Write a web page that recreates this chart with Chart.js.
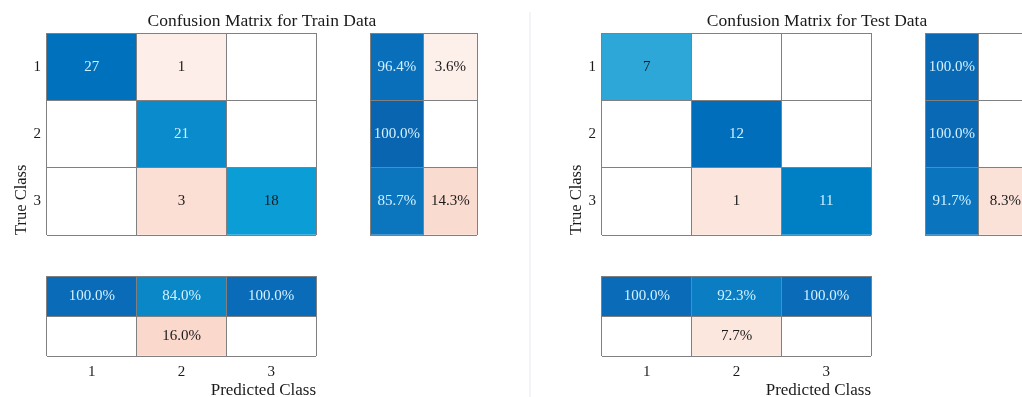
<!DOCTYPE html>
<html>
<head>
<meta charset="utf-8">
<script src="https://cdn.jsdelivr.net/npm/chart.js@4.4.1/dist/chart.umd.min.js"></script>
<style>
  html, body { margin: 0; padding: 0; background: #ffffff; overflow: hidden; width: 1022px; height: 397px; }
  .divider { position: absolute; left: 529px; top: 12px; width: 2px; height: 385px; background: #F3F3F9; }
</style>
</head>
<body>
<div class="divider"></div>
<script>
// ---------- data ----------
const classLabels = ['1', '2', '3'];
const summaryKeys = ['correct', 'incorrect'];
const rowAxisTitle = 'True Class';
const colAxisTitle = 'Predicted Class';

const trainTitle = 'Confusion Matrix for Train Data';
const trainCounts = [[27, 1, 0], [0, 21, 0], [0, 3, 18]];
const trainRowPct = [[96.4, 3.6], [100.0, 0], [85.7, 14.3]];
const trainColPct = [[100.0, 84.0, 100.0], [0, 16.0, 0]];

const testTitle = 'Confusion Matrix for Test Data';
const testCounts = [[7, 0, 0], [0, 12, 0], [0, 1, 11]];
const testRowPct = [[100.0, 0], [100.0, 0], [91.7, 8.3]];
const testColPct = [[100.0, 92.3, 100.0], [0, 7.7, 0]];

// ---------- styles ----------
const fontFamily = '"Liberation Serif", "Times New Roman", serif';
const ink = '#1a1a1a';
const lightInk = '#D2F1FF';
const gridColor = '#808080';
const W = '#FFFFFF';

const trainColors = {
  counts: [['#0071BC', '#FDEEE9', W], [W, '#0A8BCB', W], [W, '#FBDED4', '#0B9DD6']],
  rowPct: [['#0A6FBA', '#FDEFEA'], ['#0A65B0', W], ['#0B75BE', '#FADBD0']],
  colPct: [['#0A6CB8', '#0A87C7', '#0A6CB8'], [W, '#FAD8CC', W]]
};
const testColors = {
  counts: [['#2DA7D8', W, W], [W, '#006EBB', W], [W, '#FCE5DD', '#0080C4']],
  rowPct: [['#0A69B5', W], ['#0A69B5', W], ['#0A74BE', '#FBE2D9']],
  colPct: [['#0A6CB8', '#0A7DC3', '#0A6CB8'], [W, '#FCE7DF', W]]
};

const panels = [
  { left: 0,   title: trainTitle, counts: trainCounts, rowPct: trainRowPct, colPct: trainColPct, colors: trainColors },
  { left: 555, title: testTitle,  counts: testCounts,  rowPct: testRowPct,  colPct: testColPct,  colors: testColors }
];

// ---------- helpers ----------
function makeCanvas(left, top, w, h) {
  const c = document.createElement('canvas');
  c.width = w; c.height = h;
  c.style.cssText = `position:absolute;left:${left}px;top:${top}px;width:${w}px;height:${h}px;`;
  document.body.appendChild(c);
  return c;
}

function luminance(hex) {
  const n = parseInt(hex.slice(1), 16);
  const ch = [(n >> 16) & 255, (n >> 8) & 255, n & 255].map(v => {
    v /= 255;
    return v <= 0.03928 ? v / 12.92 : Math.pow((v + 0.055) / 1.055, 2.4);
  });
  return 0.2126 * ch[0] + 0.7152 * ch[1] + 0.0722 * ch[2];
}

// one dataset per matrix row; row r (counted from the top) spans band [n-1-r, n-r]
function cellDatasets(matrix, colors, keys) {
  const n = matrix.length;
  return matrix.map((row, r) => ({
    data: row.map((v, c) => ({ x: keys[c], y: [n - 1 - r, n - r], v })),
    backgroundColor: colors[r],
    borderWidth: 0,
    barPercentage: 1,
    categoryPercentage: 1,
    grouped: false
  }));
}

// writes each cell's value in the middle of its bar
const cellLabels = {
  id: 'cellLabels',
  afterDatasetsDraw(chart, args, opts) {
    const ctx = chart.ctx;
    ctx.save();
    ctx.font = `15px ${fontFamily}`;
    ctx.textAlign = 'center';
    ctx.textBaseline = 'middle';
    chart.data.datasets.forEach((ds, di) => {
      chart.getDatasetMeta(di).data.forEach((bar, i) => {
        const v = ds.data[i].v;
        if (!v) return;
        const { x, y, base } = bar.getProps(['x', 'y', 'base'], true);
        ctx.fillStyle = luminance(ds.backgroundColor[i]) < 0.26 ? lightInk : ink;
        const text = opts.kind === 'pct' ? v.toFixed(1) + '%' : String(v);
        ctx.fillText(text, x, (y + base) / 2);
      });
    });
    ctx.restore();
  }
};

function colAxis(keys, showLabels) {
  return {
    type: 'category', labels: keys, position: 'bottom', offset: true,
    grid: { z: 1, offset: true, drawTicks: false, color: gridColor, lineWidth: 1 },
    border: { display: false },
    ticks: { display: showLabels, padding: 7, color: ink, font: { family: fontFamily, size: 15 } },
    afterFit: s => { s.height = 0; s.paddingLeft = 0; s.paddingRight = 0; }
  };
}

// row axis: cell boundaries on whole numbers, class labels on band centres
function bandAxis(n, showLabels) {
  return {
    type: 'linear', position: 'left', min: 0, max: n,
    grid: {
      z: 1, drawTicks: false, lineWidth: 1,
      color: c => (c.tick && Number.isInteger(c.tick.value)) ? gridColor : 'rgba(0,0,0,0)'
    },
    border: { display: false },
    ticks: {
      display: showLabels, stepSize: 0.5, autoSkip: false, padding: 6,
      color: ink, font: { family: fontFamily, size: 15 },
      callback: v => Number.isInteger(v) ? '' : classLabels[n - 1 - Math.floor(v)]
    },
    afterFit: s => { s.width = 0; s.paddingTop = 0; s.paddingBottom = 0; }
  };
}

const baseOptions = {
  responsive: false,
  animation: false,
  events: []
};

// ---------- charts ----------
panels.forEach(p => {
  // main count matrix with row ticks, row-axis title and panel title
  new Chart(makeCanvas(p.left, 0, 524, 238), {
    type: 'bar',
    data: { labels: classLabels, datasets: cellDatasets(p.counts, p.colors.counts, classLabels) },
    options: {
      ...baseOptions,
      layout: { padding: { bottom: 3 } },
      scales: {
        x: colAxis(classLabels, false),
        y: {
          ...bandAxis(3, true),
          title: {
            display: true, text: rowAxisTitle, align: 'start', color: ink,
            font: { family: fontFamily, size: 16.5 }, padding: { top: 12, bottom: 0 }
          },
          afterFit: s => { s.width = 47; s.paddingTop = 0; s.paddingBottom = 0; }
        },
        spacer: {
          type: 'linear', position: 'right', min: 0, max: 1,
          grid: { display: false }, border: { display: false }, ticks: { display: false },
          afterFit: s => { s.width = 208; }
        }
      },
      plugins: {
        legend: { display: false },
        tooltip: { enabled: false },
        title: {
          display: true, text: p.title, color: ink,
          font: { family: fontFamily, size: 17.5, weight: 'normal' },
          padding: { top: 10.5, bottom: 1.5 }
        },
        cellLabels: { kind: 'count' }
      }
    },
    plugins: [cellLabels]
  });

  // row summary (per true class)
  new Chart(makeCanvas(p.left + 360, 0, 130, 238), {
    type: 'bar',
    data: { labels: summaryKeys, datasets: cellDatasets(p.rowPct, p.colors.rowPct, summaryKeys) },
    options: {
      ...baseOptions,
      layout: { padding: { left: 10, right: 13, top: 33, bottom: 3 } },
      scales: { x: colAxis(summaryKeys, false), y: bandAxis(3, false) },
      plugins: { legend: { display: false }, tooltip: { enabled: false }, cellLabels: { kind: 'pct' } }
    },
    plugins: [cellLabels]
  });

  // column summary (per predicted class) with class ticks and axis title
  new Chart(makeCanvas(p.left, 270, 524, 135), {
    type: 'bar',
    data: { labels: classLabels, datasets: cellDatasets(p.colPct, p.colors.colPct, classLabels) },
    options: {
      ...baseOptions,
      layout: { padding: { left: 47, right: 208, top: 6, bottom: 0 } },
      scales: {
        x: {
          ...colAxis(classLabels, true),
          title: {
            display: true, text: colAxisTitle, align: 'end', color: ink,
            font: { family: fontFamily, size: 17 }, padding: { top: 0, bottom: 3.8 }
          },
          afterFit: s => { s.height = 49; s.paddingLeft = 0; s.paddingRight = 0; }
        },
        y: bandAxis(2, false)
      },
      plugins: { legend: { display: false }, tooltip: { enabled: false }, cellLabels: { kind: 'pct' } }
    },
    plugins: [cellLabels]
  });
});
</script>
</body>
</html>
